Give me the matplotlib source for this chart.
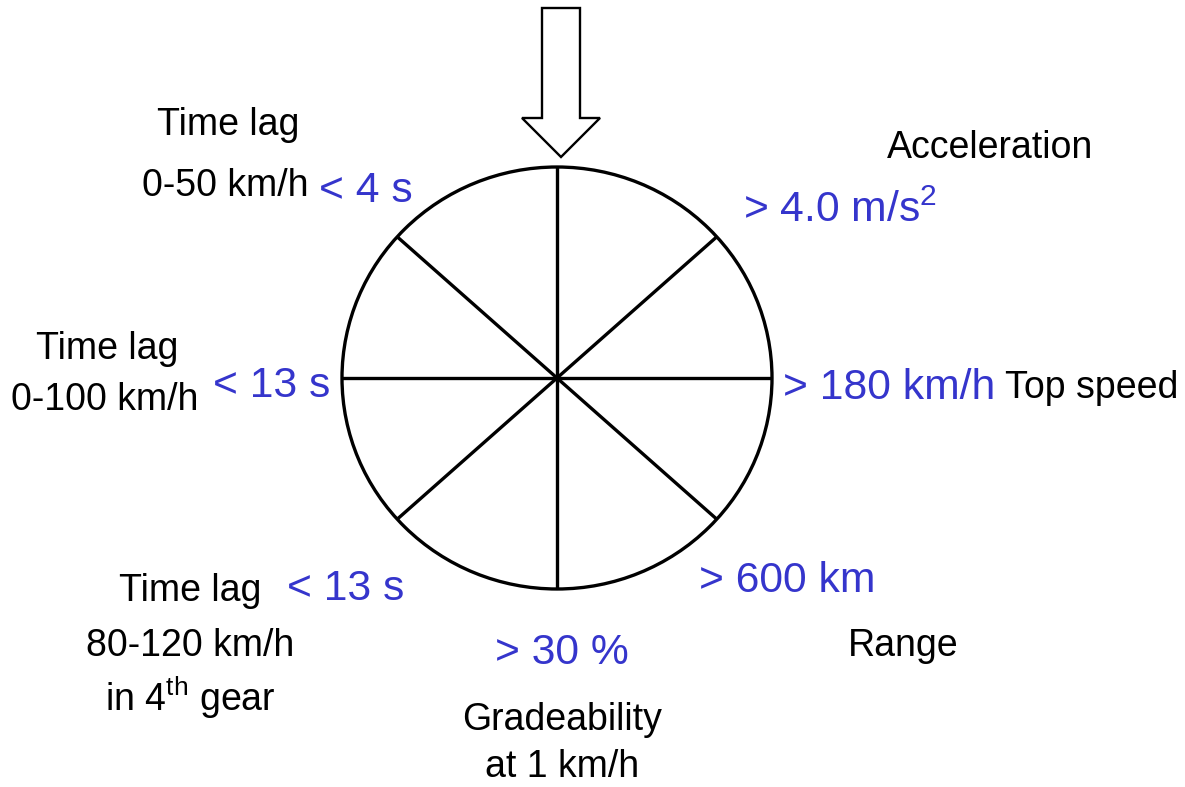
import matplotlib
matplotlib.use("Agg")
import matplotlib.pyplot as plt
from matplotlib.patches import Ellipse, Polygon
import numpy as np

plt.rcParams['font.family'] = ['Liberation Sans', 'DejaVu Sans']
plt.rcParams['mathtext.fontset'] = 'custom'
plt.rcParams['mathtext.rm'] = 'Liberation Sans'

# spoke directions (degrees, parametric on the wheel)
spoke_angles = [90, 42, 0, -42]

# criteria names (black), one line each, and target values (blue)
names = [("Time lag", 228, 122), ("0-50 km/h", 225, 183),
         ("Acceleration", 990, 145),
         ("Time lag", 107, 346), ("0-100 km/h", 105, 397),
         ("Top speed", 1092, 385),
         ("Range", 903, 643),
         ("Gradeability", 562, 717), ("at 1 km/h", 562, 764),
         ("Time lag", 190, 588), ("80-120 km/h", 190, 643),
         (r"in 4$\mathregular{^{th}}$ gear", 190, 695)]
values = [("< 4 s", 366, 188), (r"> 4.0 m/s$\mathregular{^2}$", 840, 208),
          ("< 13 s", 272, 383), ("> 180 km/h", 889, 385),
          ("> 600 km", 787, 578), ("> 30 %", 562, 650), ("< 13 s", 346, 586)]

blue = "#3535cc"
W, H = 1185, 787
fig = plt.figure(figsize=(W / 100, H / 100), dpi=100)
ax = fig.add_axes([0, 0, 1, 1])
ax.set_xlim(0, W)
ax.set_ylim(H, 0)
ax.axis("off")

# wheel
cx, cy, rx, ry = 557, 378, 215, 211
ax.add_patch(Ellipse((cx, cy), 2 * rx, 2 * ry, fill=False, lw=2.4, color="black"))
for a in spoke_angles:
    t = np.radians(a)
    dx, dy = rx * np.cos(t), ry * np.sin(t)
    ax.plot([cx - dx, cx + dx], [cy + dy, cy - dy], color="black", lw=2.4,
            solid_capstyle="butt")

# hollow arrow on top
arrow = [(542, 8), (580, 8), (580, 118), (600, 118), (561, 157),
         (522, 118), (542, 118)]
ax.add_patch(Polygon(arrow, closed=True, fill=False, lw=1.7, ec="black",
                     joinstyle="miter"))

# va='center' sits a little high because of the descender, nudge down
for txt, x, y in names:
    ax.text(x, y + 3, txt, fontsize=27, ha="center", va="center")
for txt, x, y in values:
    ax.text(x, y + 3, txt, fontsize=30.7, color=blue, ha="center", va="center")

fig.savefig("out.png", dpi=100, facecolor="white")
